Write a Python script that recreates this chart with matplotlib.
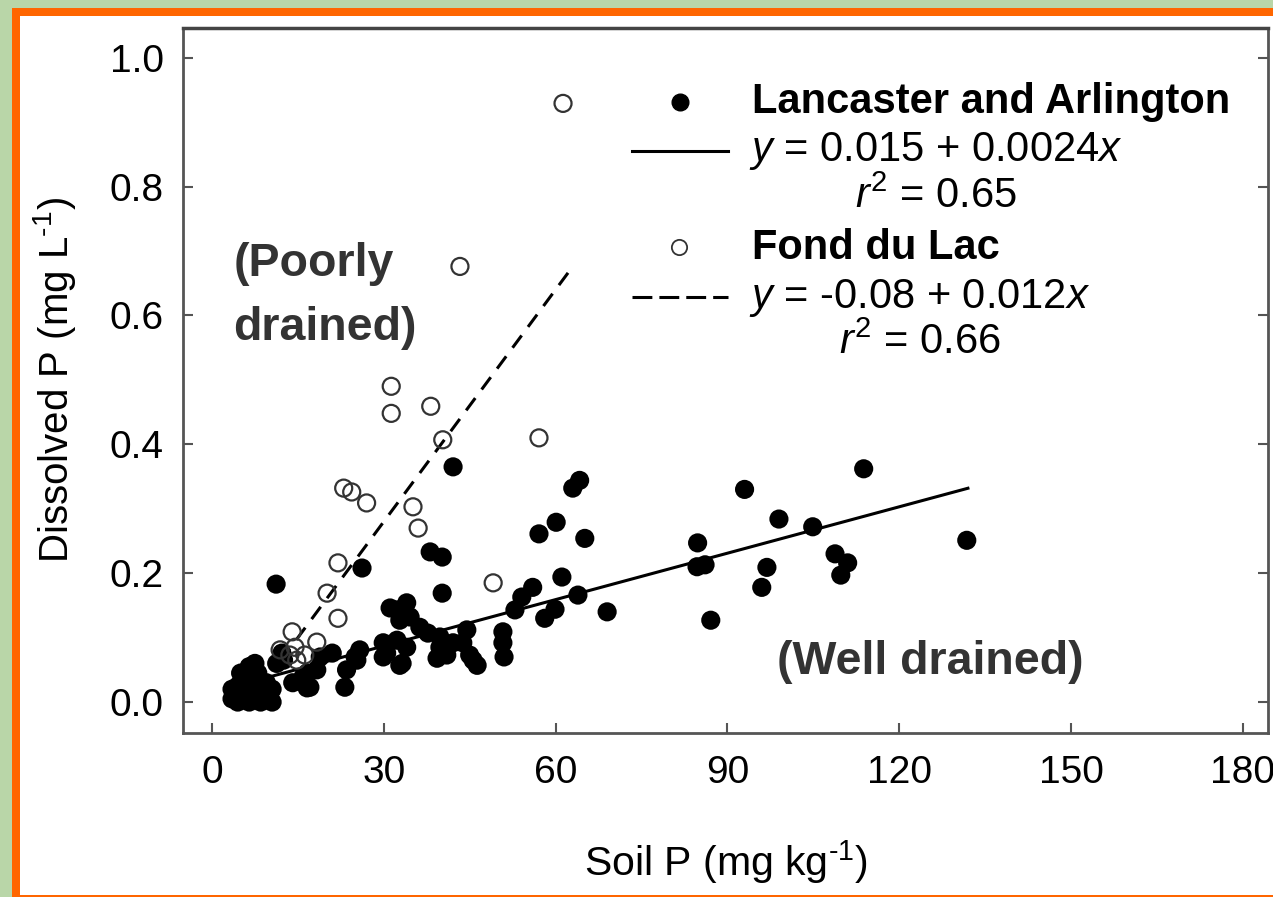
import matplotlib.pyplot as plt
from matplotlib.patches import Rectangle
from matplotlib.lines import Line2D

plt.rcParams['font.family'] = ['Liberation Sans', 'DejaVu Sans']
plt.rcParams['mathtext.fontset'] = 'custom'
plt.rcParams['mathtext.rm'] = 'Liberation Sans'
plt.rcParams['mathtext.it'] = 'Liberation Sans:italic'
plt.rcParams['mathtext.bf'] = 'Liberation Sans:bold'

# Lancaster and Arlington (well drained) - filled dots
la_x = [3.5, 3.5, 4.5, 4.5, 5.5, 5.5, 6.5, 6.5, 6.5, 7.5, 7.5, 7.5, 8.5, 8.5,
        9.5, 9.5, 10.5, 10.5, 5.0, 8.0,
        11.2, 12.2, 11.3, 12.5, 15.9, 18.3, 14.1, 16.6, 17.1, 16.6,
        18.9, 21.0, 25.3, 23.5, 23.2, 25.8, 25.0, 26.2,
        29.9, 30.5, 33.2, 32.8, 29.9, 32.3, 34.0,
        34.0, 32.3, 34.6, 31.1, 32.8,
        36.3, 37.7, 39.8, 39.8, 41.0, 39.3, 42.1,
        44.5, 43.8, 45.6, 46.3, 45.0, 50.8, 50.8, 51.0,
        42.1, 38.1, 40.2, 40.2,
        52.9, 54.1, 56.0, 57.1, 60.1, 61.1, 59.9, 58.1, 63.9,
        63.0, 64.2, 65.1, 69.0,
        84.8, 84.7, 86.1, 87.1,
        93.0, 96.9, 96.0, 99.0, 104.9, 108.8, 111.0, 109.8, 113.8, 131.8]
la_y = [0.020, 0.005, 0.000, 0.025, 0.010, 0.040, 0.000, 0.055, 0.025, 0.060, 0.010, 0.035, 0.000, 0.025,
        0.010, 0.030, 0.000, 0.020, 0.045, 0.045,
        0.183, 0.076, 0.060, 0.065, 0.039, 0.050, 0.030, 0.022, 0.023, 0.045,
        0.070, 0.076, 0.065, 0.050, 0.023, 0.081, 0.070, 0.208,
        0.092, 0.076, 0.060, 0.057, 0.070, 0.096, 0.085,
        0.154, 0.143, 0.132, 0.146, 0.127,
        0.116, 0.107, 0.101, 0.085, 0.073, 0.068, 0.092,
        0.112, 0.092, 0.065, 0.057, 0.073, 0.109, 0.092, 0.070,
        0.365, 0.233, 0.225, 0.169,
        0.143, 0.163, 0.178, 0.261, 0.279, 0.194, 0.144, 0.130, 0.166,
        0.332, 0.344, 0.254, 0.140,
        0.247, 0.210, 0.213, 0.127,
        0.330, 0.209, 0.178, 0.284, 0.272, 0.230, 0.216, 0.197, 0.362, 0.251]

# Fond du Lac (poorly drained) - open circles
fdl_x = [61.3, 43.3, 31.3, 31.3, 38.2, 40.3, 57.1, 23.0, 24.4, 27.0, 35.1, 36.0,
         22.0, 20.1, 22.0, 49.1, 18.3, 14.0, 11.9, 14.5, 16.2, 14.8, 13.6]
fdl_y = [0.929, 0.676, 0.490, 0.448, 0.459, 0.407, 0.410, 0.332, 0.326, 0.309, 0.303, 0.270,
         0.216, 0.169, 0.130, 0.185, 0.093, 0.109, 0.081, 0.085, 0.073, 0.065, 0.073]

# regression lines: intercept, slope, x range
la_fit = (0.015, 0.0024, 3.0, 132.0)
fdl_fit = (-0.08, 0.012, 12.0, 62.5)

x_ticks = [0, 30, 60, 90, 120, 150, 180]
y_ticks = [0.0, 0.2, 0.4, 0.6, 0.8, 1.0]

W, H = 1273, 897
fig = plt.figure(figsize=(W / 100, H / 100), dpi=100, facecolor='#b9d6a8')

# slide frame: orange border and white panel
fig.patches.append(Rectangle((12 / W, 0), 1, (H - 8) / H, transform=fig.transFigure,
                             facecolor='#ff6600', edgecolor='none', zorder=-2))
fig.patches.append(Rectangle((20 / W, 2 / H), 1, (H - 18) / H, transform=fig.transFigure,
                             facecolor='white', edgecolor='none', zorder=-1))

ax = fig.add_axes([183 / W, (H - 733) / H, (1268 - 183) / W, (733 - 28) / H])
ax.set_facecolor('white')
ax.set_xlim(-5.06, 184.4)
ax.set_ylim(-0.048, 1.046)

# fitted lines
b0, b1, x0, x1 = la_fit
ax.plot([x0, x1], [b0 + b1 * x0, b0 + b1 * x1], color='black', lw=2.2, zorder=2)
b0, b1, x0, x1 = fdl_fit
ax.plot([x0, x1], [b0 + b1 * x0, b0 + b1 * x1], color='black', lw=2.2,
        linestyle=(0, (5, 3.5)), zorder=2)

ax.scatter(la_x, la_y, s=190, color='black', edgecolors='none', zorder=3)
ax.scatter(fdl_x, fdl_y, s=150, facecolors='none', edgecolors='#333333',
           linewidths=1.6, zorder=4)

# axis styling
for sp in ['left', 'bottom', 'right']:
    ax.spines[sp].set_color('#555555')
    ax.spines[sp].set_linewidth(2)
ax.spines['top'].set_color('#444444')
ax.spines['top'].set_linewidth(2.5)

ax.set_xticks(x_ticks)
ax.set_yticks(y_ticks)
ax.set_yticklabels(['%.1f' % v for v in y_ticks])
ax.tick_params(axis='both', direction='in', length=7, width=1.5, color='#555555',
               labelsize=28, labelcolor='black')
ax.tick_params(axis='x', pad=16)
ax.tick_params(axis='y', pad=14, right=True, labelright=False)

ax.set_xlabel(r'Soil P (mg kg$^{\text{-1}}$)', fontsize=29.5, va='center')
ax.xaxis.set_label_coords(0.5, (733 - 862) / 705)
ax.set_ylabel(r'Dissolved P (mg L$^{\text{-1}}$)', fontsize=29, va='center')
ax.yaxis.set_label_coords((55 - 183) / 1085, 0.5)

# legend drawn by hand
t = ax.transAxes
ax.add_line(Line2D([0.458], [0.895], marker='o', markersize=12, color='black',
                   linestyle='none', transform=t))
ax.add_line(Line2D([0.4138, 0.5023], [0.8255, 0.8255], color='black', lw=2.2, transform=t))
ax.add_line(Line2D([0.457], [0.689], marker='o', markersize=11, markerfacecolor='none',
                   markeredgecolor='#333333', markeredgewidth=1.3, linestyle='none', transform=t))
ax.add_line(Line2D([0.4138, 0.5023], [0.618, 0.618], color='black', lw=2.2,
                   linestyle=(0, (6.5, 2.3)), transform=t))
ax.text(0.524, 0.895, 'Lancaster and Arlington', transform=t, fontsize=30,
        fontweight='bold', va='center', ha='left')
ax.text(0.522, 0.8255, '$y$ = 0.015 + 0.0024$x$', transform=t, fontsize=30,
        va='center', ha='left')
ax.text(0.694, 0.760, '$r^2$ = 0.65', transform=t, fontsize=30, va='center', ha='center')
ax.text(0.524, 0.688, 'Fond du Lac', transform=t, fontsize=30,
        fontweight='bold', va='center', ha='left')
ax.text(0.522, 0.617, '$y$ = -0.08 + 0.012$x$', transform=t, fontsize=30,
        va='center', ha='left')
ax.text(0.679, 0.553, '$r^2$ = 0.66', transform=t, fontsize=30, va='center', ha='center')

# drainage annotations
ax.text(3.7, 0.680, '(Poorly', fontsize=33.5, fontweight='bold', color='#333333',
        va='center', ha='left')
ax.text(3.7, 0.580, 'drained)', fontsize=33.5, fontweight='bold', color='#333333',
        va='center', ha='left')
ax.text(98.6, 0.062, '(Well drained)', fontsize=33.5, fontweight='bold', color='#333333',
        va='center', ha='left')

fig.savefig('out.png', dpi=100, facecolor=fig.get_facecolor())
